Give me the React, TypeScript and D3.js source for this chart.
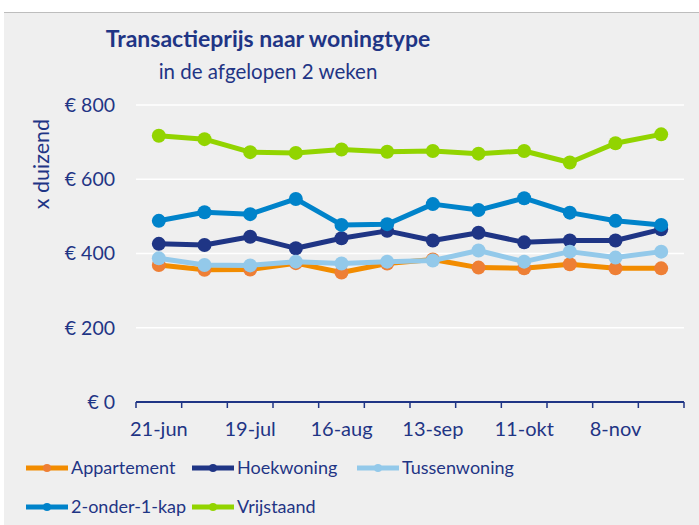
import React from 'react';
import * as d3 from 'd3';

// two-week periods
const dates = ['21-jun', '5-jul', '19-jul', '2-aug', '16-aug', '30-aug', '13-sep', '27-sep', '11-okt', '25-okt', '8-nov', '22-nov'];
const shownDates = ['21-jun', '19-jul', '16-aug', '13-sep', '11-okt', '8-nov'];
const yTicks = [0, 200, 400, 600, 800];

const appartement = [369, 356, 357, 374, 349, 373, 384, 362, 360, 371, 360, 360];
const hoekwoning = [426, 423, 445, 414, 441, 461, 435, 456, 430, 435, 435, 465];
const tussenwoning = [387, 369, 368, 378, 373, 378, 381, 408, 378, 405, 389, 405];
const tweeOnderEenKap = [488, 511, 506, 547, 477, 479, 533, 517, 549, 510, 488, 477];
const vrijstaand = [717, 708, 673, 671, 680, 674, 676, 669, 676, 645, 697, 721];

const series = [
  { name: 'Appartement', values: appartement, line: '#f28c00', dot: '#ee7f35' },
  { name: 'Hoekwoning', values: hoekwoning, line: '#1f3585', dot: '#1f3585' },
  { name: 'Tussenwoning', values: tussenwoning, line: '#93c9ea', dot: '#93c9ea' },
  { name: '2-onder-1-kap', values: tweeOnderEenKap, line: '#0083ca', dot: '#0083ca' },
  { name: 'Vrijstaand', values: vrijstaand, line: '#92d400', dot: '#92d400' },
];

const navy = '#1f3585';
const font = 'Lato, "Open Sans", sans-serif';

export default function App() {
  const width = 699;
  const height = 525;
  const x = d3.scaleBand<string>().domain(dates).range([136, 684]);
  const y = d3.scaleLinear().domain([0, 800]).range([402, 105]);
  const cx = (d: string) => (x(d) as number) + x.bandwidth() / 2;

  const line = d3.line<number>()
    .x((_, i) => cx(dates[i]))
    .y((v) => y(v));

  const boundaries = dates.map((d) => x(d) as number).concat([684]);

  const legendPos = [
    { x: 26, y: 468 },
    { x: 192, y: 468 },
    { x: 357, y: 468 },
    { x: 26, y: 507 },
    { x: 192, y: 507 },
  ];

  return (
    <svg width={width} height={height} style={{ position: 'absolute', left: 0, top: 0 }} fontFamily={font}>
      <rect x={4} y={12} width={width - 4} height={height - 12} fill="#efefef" />
      <line x1={4} x2={width} y1={12.5} y2={12.5} stroke="#bdbdbd" strokeWidth={1} />

      <text x={268} y={47} textAnchor="middle" fill={navy} fontSize={23} fontWeight="bold">
        Transactieprijs naar woningtype
      </text>
      <text x={268} y={79} textAnchor="middle" fill={navy} fontSize={20.5}>
        in de afgelopen 2 weken
      </text>

      {yTicks.filter((t) => t > 0).map((t) => (
        <line key={t} x1={136} x2={684} y1={y(t)} y2={y(t)} stroke="#ffffff" strokeWidth={1.5} />
      ))}
      {yTicks.map((t) => (
        <text key={t} x={115} y={y(t)} dy="0.35em" textAnchor="end" fill={navy} fontSize={19.5}>
          {'€ ' + t}
        </text>
      ))}
      <text transform="translate(49,164) rotate(-90)" textAnchor="middle" fill={navy} fontSize={21.5}>
        x duizend
      </text>

      <line x1={136} x2={684} y1={402} y2={402} stroke={navy} strokeWidth={2} />
      {boundaries.map((b, i) => (
        <line key={i} x1={b} x2={b} y1={402} y2={408} stroke={navy} strokeWidth={1.5} />
      ))}
      {shownDates.map((d) => (
        <text key={d} x={cx(d)} y={436} textAnchor="middle" fill={navy} fontSize={20}>
          {d}
        </text>
      ))}

      {series.map((s) => (
        <g key={s.name}>
          <path d={line(s.values) as string} fill="none" stroke={s.line} strokeWidth={5} strokeLinejoin="round" />
          {s.values.map((v, i) => (
            <circle key={i} cx={cx(dates[i])} cy={y(v)} r={7} fill={s.dot} />
          ))}
        </g>
      ))}

      {series.map((s, i) => {
        const p = legendPos[i];
        return (
          <g key={s.name} transform={`translate(${p.x},${p.y})`}>
            <line x1={0} x2={42} y1={0} y2={0} stroke={s.line} strokeWidth={5} />
            <circle cx={21} cy={0} r={4} fill={s.dot} />
            <text x={45} y={0} dy="0.35em" fill={navy} fontSize={18}>
              {s.name}
            </text>
          </g>
        );
      })}
    </svg>
  );
}
